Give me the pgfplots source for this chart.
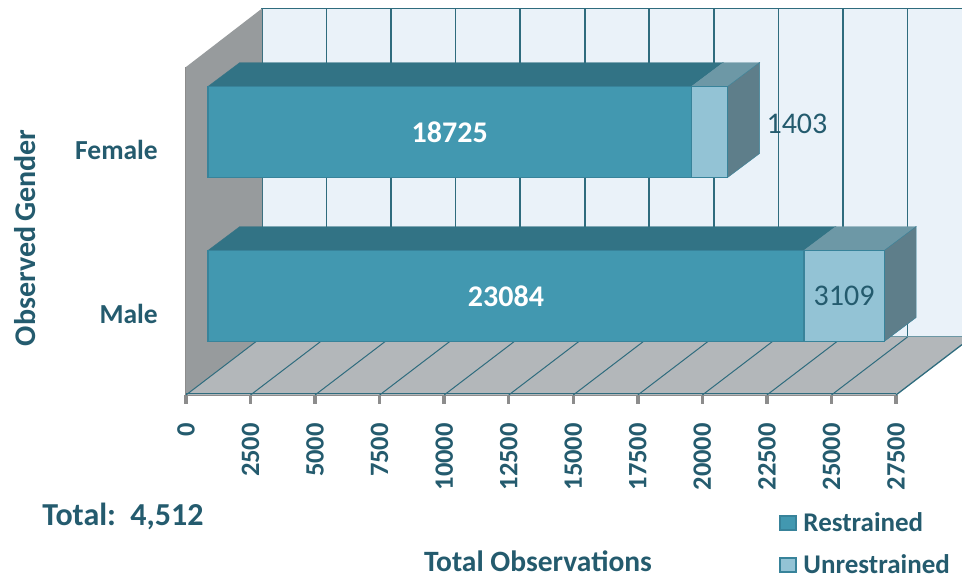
\documentclass[border=0pt]{standalone}
\usepackage{fontspec}
\setmainfont{Carlito}
\usepackage{pgfplots}
\pgfplotsset{compat=1.18}
\definecolor{txt}{HTML}{245B6E}
\definecolor{grid}{HTML}{2F6C7E}
\definecolor{wall}{HTML}{EAF2F9}
\definecolor{lwall}{HTML}{979B9D}
\definecolor{floorc}{HTML}{B3B7BA}
\definecolor{tickc}{HTML}{8C8C8C}
\definecolor{res}{HTML}{4298B0}
\definecolor{resedge}{HTML}{38839A}
\definecolor{unres}{HTML}{93C3D5}
\definecolor{restop}{HTML}{327385}
\definecolor{untop}{HTML}{6D98A6}
\definecolor{side}{HTML}{5E7E8A}
\newcommand{\fs}[1]{\fontsize{#1pt}{#1pt}\selectfont}
\begin{document}
\begin{tikzpicture}[x=1pt,y=1pt]
\clip[use as bounding box] (0,0) rectangle (962,578);
% back wall
\begin{axis}[name=back, at={(262pt,241pt)}, anchor=south west, scale only axis,
  width=700pt, height=328.5pt, xmin=0, xmax=27112, ymin=0, ymax=1,
  axis background/.style={fill=wall}, axis line style={draw=none},
  xtick={0,2500,5000,7500,10000,12500,15000,17500,20000,22500,25000}, ytick=\empty,
  xticklabels={}, xmajorgrids, major tick length=0pt,
  grid style={draw=grid,line width=1.6pt}, clip=false]
\addplot[draw=grid,line width=1.2pt] coordinates {(0,1)(27112,1)};
\end{axis}
% walls, floor, ticks
\begin{axis}[name=main, at={(186pt,183pt)}, anchor=south west, scale only axis,
  width=710pt, height=328pt, xmin=0, xmax=27500, ymin=0, ymax=2, clip=false,
  axis x line*=bottom, axis y line*=left,
  axis line style={draw=tickc,line width=2.5pt,-},
  xtick={0,2500,5000,7500,10000,12500,15000,17500,20000,22500,25000,27500},
  scaled x ticks=false,
  ytick={0.5,1.5}, yticklabels={Male,Female},
  extra y ticks={0,1,2}, extra y tick labels={},
  extra y tick style={major tick length=9pt, tick style={draw=tickc,line width=3pt}},
  major tick length=9pt, tick align=outside,
  x tick style={draw=tickc,line width=3.5pt},
  y tick style={draw=none},
  /pgf/number format/assume math mode=true,
  /pgf/number format/1000 sep={},
  xticklabel style={rotate=90,anchor=east,inner sep=0pt,xshift=-19pt,font=\fs{26.5}\bfseries,text=txt},
  yticklabel style={anchor=east,inner sep=0pt,xshift=-19pt,yshift=-1pt,font=\fs{27.5}\bfseries,text=txt},
  xlabel={Total Observations}, ylabel={Observed\hspace{-2pt} Gender},
  every axis x label/.style={at={(axis description cs:0.4958,-0.506)},anchor=center,font=\fs{29.5}\bfseries,text=txt},
  every axis y label/.style={at={(axis description cs:-0.2268,0.479)},anchor=center,rotate=90,font=\fs{30}\bfseries,text=txt},
]
\addplot[fill=lwall,draw=none] coordinates {(0,0)(0,2)(2944,2.3567)(2944,0.3537)} -- cycle;
\addplot[fill=floorc,draw=none] coordinates {(0,0)(2944,0.3537)(30056,0.3537)(30056,0.3073)(27500,0)} -- cycle;
\addplot[draw=grid,line width=1pt] coordinates {(0,0)(2944,0.3537)};
\addplot[draw=grid,line width=1pt] coordinates {(2500,0)(5444,0.3537)};
\addplot[draw=grid,line width=1pt] coordinates {(5000,0)(7944,0.3537)};
\addplot[draw=grid,line width=1pt] coordinates {(7500,0)(10444,0.3537)};
\addplot[draw=grid,line width=1pt] coordinates {(10000,0)(12944,0.3537)};
\addplot[draw=grid,line width=1pt] coordinates {(12500,0)(15444,0.3537)};
\addplot[draw=grid,line width=1pt] coordinates {(15000,0)(17944,0.3537)};
\addplot[draw=grid,line width=1pt] coordinates {(17500,0)(20444,0.3537)};
\addplot[draw=grid,line width=1pt] coordinates {(20000,0)(22944,0.3537)};
\addplot[draw=grid,line width=1pt] coordinates {(22500,0)(25444,0.3537)};
\addplot[draw=grid,line width=1pt] coordinates {(25000,0)(27944,0.3537)};
\addplot[draw=grid,line width=1.3pt] coordinates {(27500,0)(30056,0.3073)};
\addplot[draw=grid!70,line width=1pt] coordinates {(2944,0.3537)(30056,0.3537)};
\addplot[draw=grid,line width=1.5pt] coordinates {(0,0.008)(27500,0.008)};
\end{axis}
% side and top faces of the bars
\begin{axis}[at={(208pt,200pt)}, anchor=south west, scale only axis, hide axis,
  width=722.9pt, height=328pt, xmin=0, xmax=28000, ymin=-0.5, ymax=1.5, clip=false]
\addplot[fill=restop,draw=restop] coordinates {(0,1.2774)(18725,1.2774)(19964,1.4237)(1239,1.4237)} -- cycle;
\addplot[fill=untop,draw=untop] coordinates {(18725,1.2774)(20128,1.2774)(21367,1.4237)(19964,1.4237)} -- cycle;
\addplot[fill=side,draw=resedge] coordinates {(20128,0.7226)(20128,1.2774)(21367,1.4237)(21367,0.8689)} -- cycle;
\addplot[fill=restop,draw=restop] coordinates {(0,0.2774)(23084,0.2774)(24323,0.4237)(1239,0.4237)} -- cycle;
\addplot[fill=untop,draw=untop] coordinates {(23084,0.2774)(26193,0.2774)(27432,0.4237)(24323,0.4237)} -- cycle;
\addplot[fill=side,draw=resedge] coordinates {(26193,-0.2774)(26193,0.2774)(27432,0.4237)(27432,-0.1311)} -- cycle;
\end{axis}
% front faces
\begin{axis}[at={(208pt,200pt)}, anchor=south west, scale only axis, hide axis,
  width=722.9pt, height=328pt, xmin=0, xmax=28000, ymin=-0.5, ymax=1.5, clip=false,
  xbar stacked, bar width=91pt, bar shift=0pt,
  legend cell align=left,
  legend style={at={(axis description cs:0.7893,-0.405)},anchor=north west,draw=none,fill=none,
    font=\fs{27}\bfseries,text=txt,row sep=17pt,inner sep=0pt,nodes={inner xsep=3pt}},
  legend image code/.code={\draw[#1,line width=1.8pt] (0pt,-7pt) rectangle (16pt,7pt); \path (20pt,0pt);},
]
\addplot[fill=res,draw=resedge,line width=1.5pt] coordinates {(23084,0)(18725,1)};
\addplot[fill=unres,draw=resedge,line width=1.5pt] coordinates {(3109,0)(1403,1)};
\legend{Restrained,Unrestrained}
\end{axis}
% value labels
\begin{axis}[at={(208pt,200pt)}, anchor=south west, scale only axis, hide axis,
  width=722.9pt, height=328pt, xmin=0, xmax=28000, ymin=-0.5, ymax=1.5, clip=false]
\node[text=white,font=\fs{30}\bfseries] at (axis cs:9362,1) {18725};
\node[text=white,font=\fs{30}\bfseries] at (axis cs:11542,0) {23084};
\node[text=txt,font=\fs{30}] at (axis cs:24638,0) {3109};
\node[text=txt,font=\fs{30}] at (axis cs:22813,1.049) {1403};
\end{axis}
\node[text=txt,font=\fs{32}\bfseries] at (123,62) {Total:\ \ 4,512};
\end{tikzpicture}
\end{document}
